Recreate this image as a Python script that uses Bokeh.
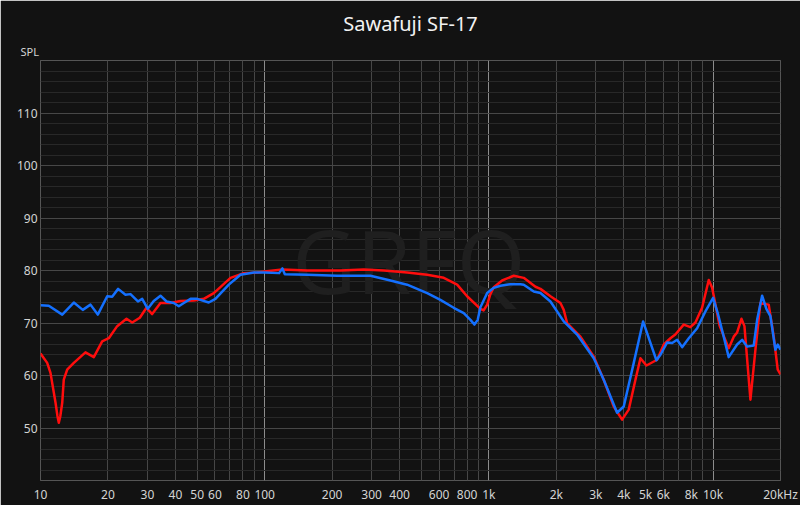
from bokeh.plotting import figure
from bokeh.models import FixedTicker, Label, Title
from bokeh.embed import file_html
from bokeh.resources import INLINE

TITLE = "Sawafuji SF-17"
Y_LABEL = "SPL"
WATERMARK = "GRFQ"

red_freq = [10, 10.71, 11.08, 11.67, 11.9, 12.07, 12.25, 12.5, 12.7, 13.15, 14.08, 15.87, 17.29, 18.84, 20.17, 21.98,
            24.19, 25.65, 27.73, 29.7, 31.48, 34.29, 38.0, 42.1, 48.3, 53.5, 59.3, 70.4, 80.7, 92.6, 100,
            119.7, 154.7, 217.8, 276.7, 339.6, 432, 530.8, 629.5, 722, 799.8, 917, 948, 983, 1016, 1052,
            1146, 1291, 1431, 1614, 1699, 1883, 2086, 2158, 2234, 2562, 2938, 3254, 3606, 3931, 4207, 4508,
            4745, 5047, 5633, 6030, 6456, 6790, 7401, 7925, 8347, 8937, 9571, 9910, 10712, 11750, 12372,
            12810, 13390, 13810, 14686, 15455, 16270, 17000, 17719, 18656, 19444, 20000]
red_db = [64.2, 62.4, 60.5, 54.8, 52.3, 51.0, 52.2, 54.8, 59.2, 61.1, 62.4, 64.4, 63.5, 66.5, 67.1, 69.4,
          70.8, 70.1, 71.0, 72.9, 71.7, 73.8, 73.8, 74.2, 74.3, 74.6, 75.7, 78.6, 79.5, 79.6, 79.8,
          80.2, 80.0, 80.0, 80.2, 80.0, 79.6, 79.2, 78.6, 77.3, 75.1, 72.7, 72.4, 73.5, 75.5, 76.8,
          78.1, 79.0, 78.6, 76.9, 76.5, 75.1, 73.8, 72.5, 70.0, 67.4, 63.6, 59.2, 54.1, 51.6, 53.5, 59.2,
          63.3, 61.9, 63.0, 65.9, 67.1, 67.8, 69.7, 69.2, 70.1, 72.9, 78.2, 76.7, 69.4, 65.2, 67.4,
          68.2, 70.8, 69.4, 55.4, 64.9, 73.8, 73.6, 73.5, 67.4, 61.1, 60.2]

blue_freq = [10, 10.89, 12.5, 14.08, 15.44, 16.71, 18.01, 19.84, 20.88, 22.2, 23.94, 25.2, 27.2, 28.42,
             30.1, 32.0, 34.29, 36.5, 39.3, 41.4, 43.6, 46.7, 50.0, 56.3, 60.3, 69.2, 78.0, 89.4, 100,
             116, 120, 123, 154.7, 210.6, 296.4, 364, 432, 530.8, 608, 697, 773, 828, 862, 892, 917, 983,
             1052, 1126, 1248, 1383, 1431, 1586, 1699, 1883, 2158, 2476, 2938, 3254, 3733, 3997, 4430,
             4875, 5258, 5592, 5837, 6242, 6571, 6918, 7281, 7795, 8495, 9249, 10010, 10494, 11160, 11750,
             12810, 13487, 14195, 15190, 15731, 16557, 17300, 18030, 18982, 19444, 20000]
blue_db = [73.4, 73.3, 71.6, 73.9, 72.5, 73.5, 71.6, 75.1, 75.0, 76.5, 75.4, 75.5, 74.1, 74.6,
           72.7, 74.2, 75.2, 74.1, 73.8, 73.2, 73.8, 74.6, 74.6, 73.9, 74.6, 77.3, 79.2, 79.6, 79.6,
           79.5, 80.4, 79.3, 79.2, 79.0, 79.0, 78.1, 77.3, 75.7, 74.4, 72.9, 71.9, 70.6, 69.7, 70.6, 73.0, 75.7,
           76.7, 77.1, 77.4, 77.4, 77.3, 76.0, 75.7, 74.1, 70.3, 67.8, 63.3, 59.2, 52.9, 54.1, 62.4,
           70.3, 66.2, 62.9, 64.0, 66.3, 66.2, 66.8, 65.4, 67.1, 69.0, 72.2, 74.8, 71.9, 67.4, 63.5,
           65.9, 66.8, 65.5, 65.7, 70.6, 75.2, 72.7, 71.3, 64.9, 65.9, 64.9]

x_tick_vals = [10, 20, 30, 40, 50, 60, 80, 100, 200, 300, 400, 600, 800, 1000,
               2000, 3000, 4000, 5000, 6000, 8000, 10000, 20000]
x_tick_labels = ["10", "20", "30", "40", "50", "60", "80", "100", "200", "300", "400", "600", "800", "1k",
                 "2k", "3k", "4k", "5k", "6k", "8k", "10k", "20kHz"]
y_tick_vals = [50, 60, 70, 80, 90, 100, 110]

BG = "#121212"
FONT = "Noto Sans"

p = figure(x_axis_type="log", x_range=(10, 20000), y_range=(40, 120),
           frame_width=740, frame_height=420, title_location=None,
           min_border_left=40, min_border_right=20, min_border_top=60, min_border_bottom=25,
           output_backend="svg", toolbar_location=None,
           background_fill_color=BG, border_fill_color=BG)
p.outline_line_color = "#555555"

# grids
major_x = [100, 1000, 10000]
minor_x = [m * d for d in (10, 100, 1000) for m in range(2, 10)]
p.xgrid.ticker = FixedTicker(ticks=major_x, minor_ticks=minor_x)
p.xgrid.grid_line_color = "#8c8c8c"
p.xgrid.minor_grid_line_color = "#464646"
p.ygrid.ticker = FixedTicker(ticks=list(range(40, 121, 10)),
                             minor_ticks=[v for v in range(40, 121, 2) if v % 10])
p.ygrid.grid_line_color = "#474747"
p.ygrid.minor_grid_line_color = "#282828"

# axes
p.xaxis.ticker = FixedTicker(ticks=x_tick_vals)
p.xaxis.major_label_overrides = {v: l for v, l in zip(x_tick_vals, x_tick_labels)}
p.yaxis.ticker = FixedTicker(ticks=y_tick_vals)
for ax in (p.xaxis[0], p.yaxis[0]):
    ax.axis_line_color = None
    ax.major_tick_line_color = None
    ax.minor_tick_line_color = None
    ax.major_tick_out = 0
    ax.major_tick_in = 0
    ax.major_label_text_color = "#d4d4d4"
    ax.major_label_text_font = FONT
    ax.major_label_text_font_size = "12px"
p.xaxis.major_label_standoff = 5
p.yaxis.major_label_standoff = 3

# watermark
p.add_layout(Label(x=440, y=82, text=WATERMARK, text_align="center", text_baseline="middle",
                   text_font=FONT, text_font_size="88px",
                   text_color="#1f1f1f", level="underlay"))

p.line(red_freq, red_db, line_color="#ff0d0d", line_width=2.5, line_join="round")
p.line(blue_freq, blue_db, line_color="#1470ff", line_width=2.5, line_join="round")

# axis name (closest to frame) and title (outer)
p.add_layout(Title(text=Y_LABEL, align="left", offset=-20, standoff=4,
                   text_font=FONT, text_font_size="11px", text_font_style="normal",
                   text_color="#d4d4d4"), "above")
p.add_layout(Title(text=TITLE, align="center", offset=-10, standoff=6,
                   text_font=FONT, text_font_size="20px", text_font_style="normal",
                   text_color="#f2f2f2"), "above")

open("out.html", "w").write(file_html(p, INLINE))
